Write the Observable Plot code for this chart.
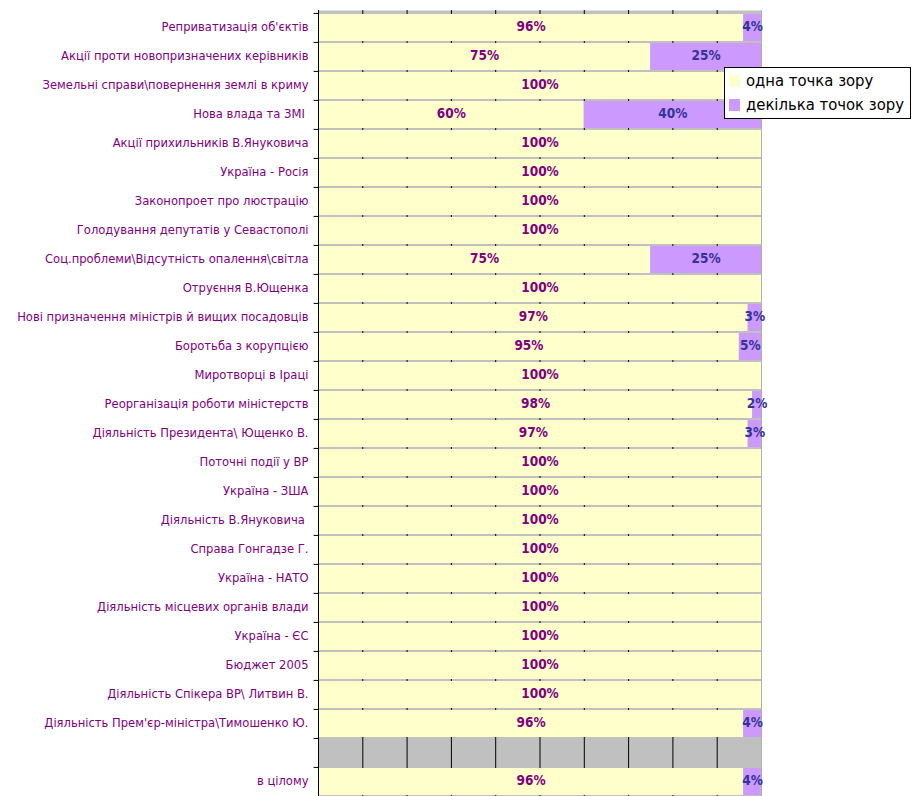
<!DOCTYPE html>
<html>
<head>
<meta charset="utf-8">
<script src="https://cdn.jsdelivr.net/npm/d3@7"></script>
<script src="https://cdn.jsdelivr.net/npm/@observablehq/plot@0.6"></script>
<style>
  html, body { margin: 0; background: #fff; overflow: hidden; }
  #wrap { position: relative; width: 916px; height: 796px; overflow: hidden; }
  #legend { position: absolute; left: 724px; top: 67px; width: 185px; height: 50px; border: 1px solid #000; background: #fff;
            font-family: "DejaVu Sans Condensed", "DejaVu Sans", sans-serif; font-size: 16.5px; color: #000; }
  .item { position: absolute; left: 4px; display: flex; align-items: center; line-height: 20px; }
  .sw { width: 11px; height: 12px; margin-right: 6px; }
</style>
</head>
<body>
<div id="wrap">
  <div id="chart"></div>
  <div id="legend"></div>
</div>
<script>
const categories = [
  "Реприватизація об'єктів",
  "Акції проти новопризначених керівників",
  "Земельні справи\\повернення землі в криму",
  "Нова влада та ЗМІ ",
  "Акції прихильників В.Януковича",
  "Україна - Росія",
  "Законопроет про люстрацію",
  "Голодування депутатів у Севастополі",
  "Соц.проблеми\\Відсутність опалення\\світла",
  "Отруєння В.Ющенка",
  "Нові призначення міністрів й вищих посадовців",
  "Боротьба з корупцією",
  "Миротворці в Іраці",
  "Реорганізація роботи міністерств",
  "Діяльність Президента\\ Ющенко В.",
  "Поточні події у ВР",
  "Україна - ЗША",
  "Діяльність В.Януковича ",
  "Справа Гонгадзе Г.",
  "Україна - НАТО",
  "Діяльність місцевих органів влади",
  "Україна - ЄС",
  "Бюджет 2005",
  "Діяльність Спікера ВР\\ Литвин В.",
  "Діяльність Прем'єр-міністра\\Тимошенко Ю.",
  " ",
  "в цілому"
];
const oneView  = [96, 75, 100, 60, 100, 100, 100, 100, 75, 100, 97, 95, 100, 98, 97, 100, 100, 100, 100, 100, 100, 100, 100, 100, 96, null, 96];
const manyView = [4, 25, 0, 40, 0, 0, 0, 0, 25, 0, 3, 5, 0, 2, 3, 0, 0, 0, 0, 0, 0, 0, 0, 0, 4, null, 4];
const seriesNames = ["одна точка зору", "декілька точок зору"];
const gridTicks = [0, 10, 20, 30, 40, 50, 60, 70, 80, 90, 100];

const colors = {one: "#ffffcc", many: "#cc99ff", labelOne: "#800080", labelMany: "#333399", cat: "#800080", plotBg: "#c0c0c0"};

const rows = categories.map((c, i) => ({cat: c, one: oneView[i], many: manyView[i]})).filter(d => d.one != null);

const H = 798, MT = 10, MB = 0;
const rowH = (H - MT - MB) / categories.length;

const chart = Plot.plot({
  width: 916,
  height: H,
  marginTop: MT,
  marginBottom: MB,
  marginLeft: 318,
  marginRight: 155,
  style: {fontFamily: "'DejaVu Sans Condensed', 'DejaVu Sans', sans-serif", background: "#fff"},
  x: {domain: [0, 100], axis: null},
  y: {domain: categories, padding: 0, axis: null},
  marks: [
    Plot.frame({fill: colors.plotBg, stroke: null}),
    Plot.ruleX(gridTicks, {stroke: "#000", strokeWidth: 1}),
    Plot.barX(rows, {y: "cat", x1: 0, x2: "one", fill: colors.one, insetTop: 1, insetBottom: 1}),
    Plot.barX(rows.filter(d => d.many > 0), {y: "cat", x1: "one", x2: 100, fill: colors.many, insetTop: 1, insetBottom: 1}),
    Plot.ruleX([100], {stroke: "#b0b0b0"}),
    Plot.ruleX([0], {stroke: "#000"}),
    Plot.ruleY(categories, {y: d => d, dy: -rowH / 2, x1: -1, x2: 0, stroke: "#000"}),
    Plot.axisY({tickSize: 0, tickPadding: 10, fill: colors.cat, fontSize: 12.85, label: null, dy: -1}),
    Plot.text(rows, {y: "cat", x: d => d.one / 2, text: d => d.one + "%", fill: colors.labelOne, fontWeight: "bold", fontSize: 13.5, dy: -1}),
    Plot.text(rows.filter(d => d.many > 0), {y: "cat", x: d => (d.one + 100) / 2, text: d => d.many + "%", fill: colors.labelMany, fontWeight: "bold", fontSize: 13.5, dy: -1})
  ]
});
document.getElementById("chart").appendChild(chart);

const legend = document.getElementById("legend");
[[seriesNames[0], colors.one, 3], [seriesNames[1], colors.many, 27]].forEach(([name, col, top]) => {
  const it = document.createElement("div");
  it.className = "item";
  it.style.top = top + "px";
  const sw = document.createElement("div");
  sw.className = "sw";
  sw.style.background = col;
  const tx = document.createElement("span");
  tx.textContent = name;
  it.appendChild(sw); it.appendChild(tx);
  legend.appendChild(it);
});
</script>
</body>
</html>
